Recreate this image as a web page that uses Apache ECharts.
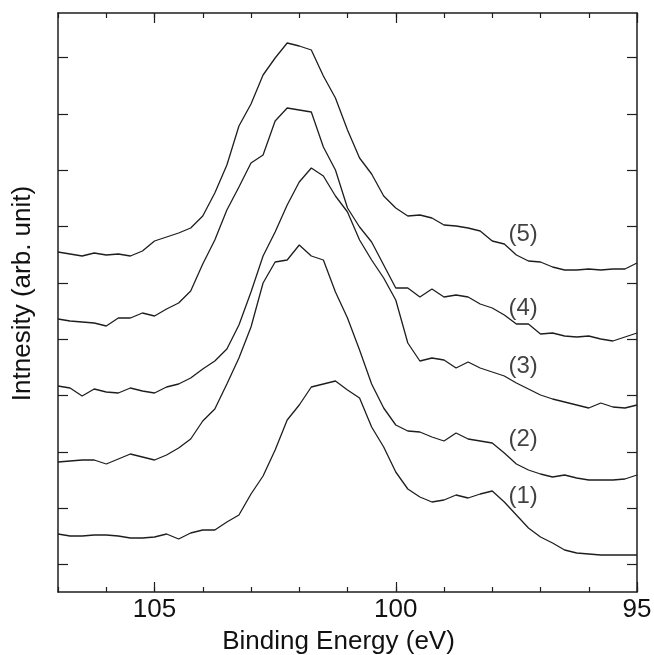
<!DOCTYPE html>
<html>
<head>
<meta charset="utf-8">
<script src="https://cdn.jsdelivr.net/npm/echarts@6/dist/echarts.min.js"></script>
<style>
html,body{margin:0;padding:0;background:#fff;}
#chart{width:654px;height:655px;}
</style>
</head>
<body>
<div id="chart"></div>
<script>
// Binding energy grid (eV)
const energies = [107,106.75,106.5,106.25,106,105.75,105.5,105.25,105,104.75,104.5,104.25,104,103.75,103.5,103.25,103,102.75,102.5,102.25,102,101.75,101.5,101.25,101,100.75,100.5,100.25,100,99.75,99.5,99.25,99,98.75,98.5,98.25,98,97.75,97.5,97.25,97,96.75,96.5,96.25,96,95.75,95.5,95.25,95];

// Intensities (arb. unit), offset spectra
const spectrum1 = [58,56,56,57,57,56,54,54,55,58,53,59,62,62,70,77,98,116,142,172,187,205,208,211,202,194,165,145,120,103,95,90,92,97,94,98,101,90,77,64,55,49,42,39,38,37,37,37,37];
const spectrum2 = [130,131,132,132,128,133,138,135,132,137,144,153,171,183,208,234,265,309,330,332,347,336,332,300,274,242,208,184,167,161,160,155,151,159,153,151,149,139,128,122,118,115,117,114,112,112,112,113,117];
const spectrum3 = [206,204,196,203,200,199,204,201,199,205,208,214,223,231,243,267,300,336,360,387,410,424,416,396,380,352,332,314,292,249,231,234,232,224,230,224,220,216,209,203,197,193,190,187,184,189,185,184,187];
const spectrum4 = [273,271,270,269,266,274,274,279,276,283,289,301,328,352,382,405,429,437,471,484,482,480,445,422,384,365,350,327,304,304,295,303,295,297,295,288,284,277,268,268,258,259,256,255,256,253,251,255,259];
const spectrum5 = [340,338,336,339,337,338,336,341,351,355,359,364,376,399,427,466,488,517,534,549,546,542,516,494,462,434,418,396,384,376,377,374,367,366,364,361,351,348,337,331,330,325,322,322,323,322,323,323,329];

// Curve labels
const labelText = ['(1)','(2)','(3)','(4)','(5)'];
const labelE = [97.36,97.36,97.36,97.36,97.36];
const labelY = [96,153,226,284,358];

// Axis ticks
const xMajorTicks = [95,100,105];
const xMinorTicks = [95,96,97,98,99,100,101,102,103,104,105,106,107];
const yTicks = [28,84,140,197,253,309,366,422,478,535];
const xMin = 95, xMax = 107, yMin = 0, yMax = 579;

const FONT = "'Liberation Sans', Arial, Helvetica, sans-serif";
const INK = '#1e1e1e';

const spectra = [spectrum1, spectrum2, spectrum3, spectrum4, spectrum5];

function xAxisDef(pos, ticks, len, showLine, showLabel, name) {
  return {
    type: 'value', position: pos, min: xMin, max: xMax, inverse: true,
    splitLine: {show: false},
    axisLine: {show: showLine, onZero: false, lineStyle: {color: INK, width: 1.5}},
    axisTick: {show: true, inside: true, length: len, customValues: ticks, lineStyle: {color: INK, width: 1.2}},
    axisLabel: {show: showLabel, customValues: xMajorTicks, color: '#111', fontSize: 26, fontFamily: FONT, margin: 5},
    name: name || '', nameLocation: 'middle', nameGap: 37,
    nameTextStyle: {color: '#111', fontSize: 26, fontFamily: FONT, padding: [0, 18, 0, 0]}
  };
}
function yAxisDef(pos, showName) {
  return {
    type: 'value', position: pos, min: yMin, max: yMax,
    splitLine: {show: false},
    axisLine: {show: true, onZero: false, lineStyle: {color: INK, width: 1.5}},
    axisTick: {show: true, inside: true, length: 10, customValues: yTicks, lineStyle: {color: INK, width: 1.2}},
    axisLabel: {show: false},
    name: showName ? 'Intnesity (arb. unit)' : '', nameLocation: 'middle', nameGap: 22,
    nameTextStyle: {color: '#111', fontSize: 26, fontFamily: FONT, padding: [0, 0, 0, 18]}
  };
}

const series = spectra.map(function (s) {
  return {
    type: 'line', xAxisIndex: 0, yAxisIndex: 0,
    data: energies.map(function (e, i) { return [e, s[i]]; }),
    showSymbol: false, symbol: 'none', silent: true,
    lineStyle: {color: INK, width: 1.3}
  };
});
series.push({
  type: 'scatter', xAxisIndex: 0, yAxisIndex: 0,
  symbolSize: 1, itemStyle: {color: 'rgba(0,0,0,0)'}, silent: true,
  data: labelText.map(function (t, i) { return {name: t, value: [labelE[i], labelY[i]]}; }),
  label: {show: true, position: 'inside', formatter: '{b}', color: '#111', fontSize: 24, fontFamily: FONT}
});

const chart = echarts.init(document.getElementById('chart'), null, {renderer: 'canvas'});
chart.setOption({
  animation: false,
  backgroundColor: '#fff',
  grid: {left: 58, right: 17, top: 13, bottom: 63, containLabel: false, outerBoundsMode: 'none'},
  xAxis: [
    xAxisDef('bottom', xMajorTicks, 10, true, true, 'Binding Energy (eV)'),
    xAxisDef('bottom', xMinorTicks, 5, false, false),
    xAxisDef('top', xMajorTicks, 10, true, false),
    xAxisDef('top', xMinorTicks, 5, false, false)
  ],
  yAxis: [yAxisDef('left', true), yAxisDef('right', false)],
  series: series
});
</script>
</body>
</html>
